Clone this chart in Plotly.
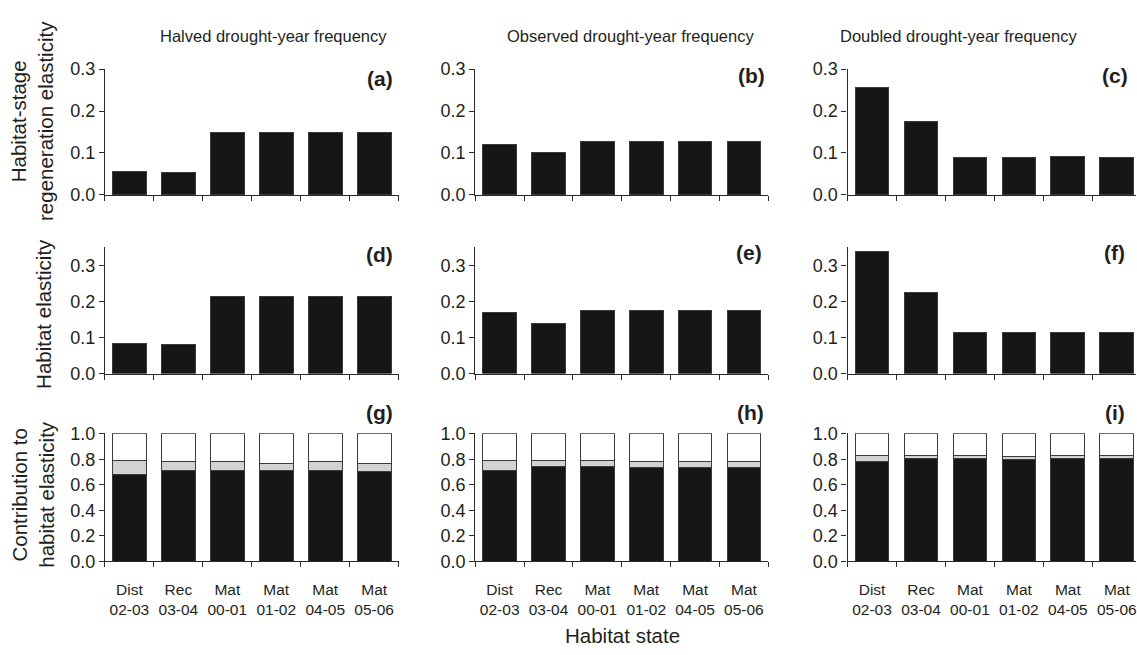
import plotly.graph_objects as go

W, H = 1137, 655

categories = ["Dist<br>02-03", "Rec<br>03-04", "Mat<br>00-01", "Mat<br>01-02", "Mat<br>04-05", "Mat<br>05-06"]
col_titles = ["Halved drought-year frequency", "Observed drought-year frequency", "Doubled drought-year frequency"]
panel_letters = ["(a)", "(b)", "(c)", "(d)", "(e)", "(f)", "(g)", "(h)", "(i)"]

# Row 1: habitat-stage regeneration elasticity
regen_halved = [0.056, 0.053, 0.149, 0.149, 0.149, 0.149]
regen_observed = [0.119, 0.102, 0.128, 0.128, 0.128, 0.128]
regen_doubled = [0.257, 0.176, 0.089, 0.089, 0.092, 0.089]

# Row 2: habitat elasticity
hab_halved = [0.084, 0.080, 0.214, 0.214, 0.214, 0.214]
hab_observed = [0.168, 0.140, 0.176, 0.176, 0.176, 0.176]
hab_doubled = [0.338, 0.225, 0.115, 0.115, 0.115, 0.115]

# Row 3: contribution to habitat elasticity (black, grey shares; white is the rest)
contrib_black_halved = [0.683, 0.713, 0.713, 0.713, 0.713, 0.700]
contrib_grey_halved = [0.106, 0.066, 0.066, 0.053, 0.066, 0.069]
contrib_black_observed = [0.713, 0.744, 0.744, 0.733, 0.733, 0.733]
contrib_grey_observed = [0.076, 0.045, 0.045, 0.046, 0.046, 0.046]
contrib_black_doubled = [0.784, 0.805, 0.805, 0.794, 0.805, 0.805]
contrib_grey_doubled = [0.046, 0.025, 0.025, 0.028, 0.025, 0.025]

row1 = [regen_halved, regen_observed, regen_doubled]
row2 = [hab_halved, hab_observed, hab_doubled]
row3 = [(contrib_black_halved, contrib_grey_halved),
        (contrib_black_observed, contrib_grey_observed),
        (contrib_black_doubled, contrib_grey_doubled)]

FONT = "Liberation Sans, Arial, sans-serif"
TXT = "#231f20"
LINE = "#2a2a2a"
BLACK = "#161616"
GREY = "#d2d2d2"
OUTL = "#3a3a3a"
BARW = 0.69

# pixel geometry
col_px = [(105, 399), (475.7, 769), (848.3, 1137)]
row_px = [(61, 190.7), (244.7, 375), (436.5, 568.7)]  # (top, bottom)
yranges = [[0, 0.3], [0, 0.35], [0, 1.004]]
ytickvals = [[0, 0.1, 0.2, 0.3], [0, 0.1, 0.2, 0.3], [0, 0.2, 0.4, 0.6, 0.8, 1.0]]

fig = go.Figure()
layout = {}

def ax_id(i):
    return "" if i == 1 else str(i)

for r in range(3):
    for c in range(3):
        i = r * 3 + c + 1
        xa, ya = "x" + ax_id(i), "y" + ax_id(i)
        if r < 2:
            vals = (row1 if r == 0 else row2)[c]
            fig.add_trace(go.Bar(x=categories, y=vals, xaxis=xa, yaxis=ya, width=BARW,
                                 marker=dict(color=BLACK, line=dict(color=OUTL, width=1)),
                                 showlegend=False, hoverinfo="y"))
        else:
            blk, gry = row3[c]
            wht = [1 - b - g for b, g in zip(blk, gry)]
            for vals, colr in ((blk, BLACK), (gry, GREY), (wht, "#ffffff")):
                fig.add_trace(go.Bar(x=categories, y=vals, xaxis=xa, yaxis=ya, width=BARW,
                                     marker=dict(color=colr, line=dict(color=OUTL, width=1)),
                                     showlegend=False, hoverinfo="y"))
        x0, x1 = col_px[c]
        top, bot = row_px[r]
        xrange = [-0.5, 5.5] if c < 2 else [-0.5, -0.5 + 6 * (x1 - x0) / 294.0]
        layout["xaxis" + ax_id(i)] = dict(
            domain=[x0 / W, x1 / W], anchor=ya, type="category",
            categoryorder="array", categoryarray=categories,
            range=xrange, showline=True, linecolor=LINE, linewidth=1.2,
            ticks="outside", tickson="boundaries", ticklen=5, tickwidth=1.2, tickcolor=LINE,
            showticklabels=(r == 2), ticklabelstandoff=14, tickangle=0,
            tickfont=dict(family=FONT, size=15.5, color=TXT),
            showgrid=False, zeroline=False, fixedrange=True)
        layout["yaxis" + ax_id(i)] = dict(
            domain=[1 - bot / H, 1 - top / H], anchor=xa, range=yranges[r],
            tickvals=ytickvals[r], tickformat=".1f",
            showline=True, linecolor=LINE, linewidth=1.2,
            ticks="outside", ticklen=5, tickwidth=1.2, tickcolor=LINE,
            tickfont=dict(family=FONT, size=18, color=TXT),
            showgrid=False, zeroline=False, fixedrange=True)

annotations = []
# column titles
for t, xc in zip(col_titles, [274, 631.5, 959]):
    annotations.append(dict(text=t, x=xc / W, y=1 - 27 / H, xref="paper", yref="paper",
                            xanchor="center", yanchor="middle", showarrow=False,
                            font=dict(family=FONT, size=16.5, color=TXT)))
# panel letters
letter_pos = [(395, 71), (767.5, 68), (1130.5, 68),
              (395, 252), (765, 250), (1128, 250),
              (395, 415), (766.5, 415), (1128, 415)]
for lt, (px, py) in zip(panel_letters, letter_pos):
    annotations.append(dict(text="<b>%s</b>" % lt, x=px / W, y=1 - py / H, xref="paper", yref="paper",
                            xanchor="right", yanchor="middle", showarrow=False,
                            font=dict(family=FONT, size=21, color=TXT)))
# y titles
ytitles = [("Habitat-stage<br>regeneration elasticity", 31.5, 114),
           ("Habitat elasticity", 43.5, 313),
           ("Contribution to<br>habitat elasticity", 33, 499)]
for t, px, py in ytitles:
    annotations.append(dict(text=t, x=px / W, y=1 - py / H, xref="paper", yref="paper",
                            xanchor="center", yanchor="middle", showarrow=False, textangle=-90,
                            font=dict(family=FONT, size=20.5, color=TXT)))
# x title
annotations.append(dict(text="Habitat state", x=623 / W, y=1 - 645 / H, xref="paper", yref="paper",
                        xanchor="center", yanchor="middle", showarrow=False,
                        font=dict(family=FONT, size=20.5, color=TXT)))

fig.update_layout(width=W, height=H, margin=dict(l=0, r=0, t=0, b=0),
                  paper_bgcolor="white", plot_bgcolor="white", barmode="stack",
                  showlegend=False, annotations=annotations, **layout)

fig.write_html("out.html", config={"displayModeBar": False})
